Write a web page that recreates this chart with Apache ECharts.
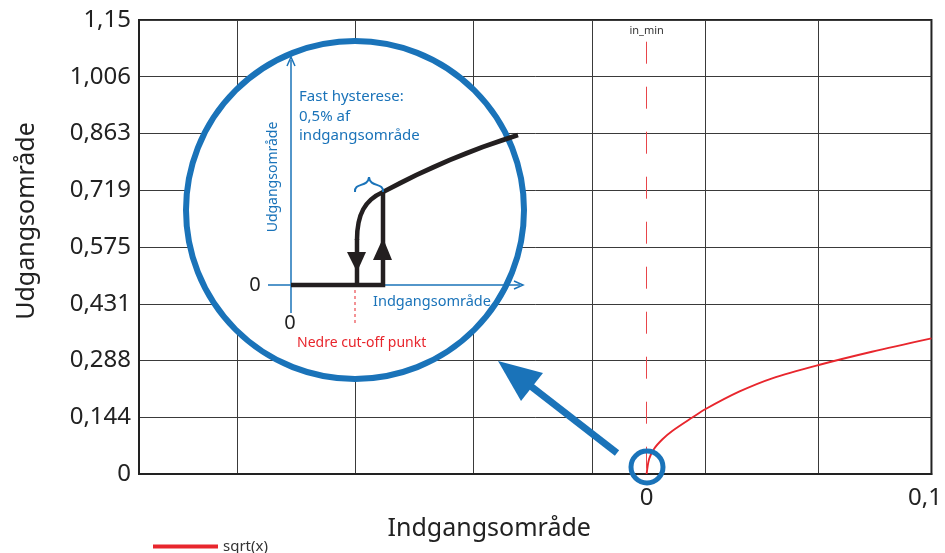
<!DOCTYPE html>
<html>
<head>
<meta charset="utf-8">
<script src="https://cdn.jsdelivr.net/npm/echarts@6/dist/echarts.min.js"></script>
<style>
  html, body { margin: 0; padding: 0; background: #fff; }
  #main { width: 945px; height: 553px; }
</style>
</head>
<body>
<div id="main"></div>
<script>
// kurve (indgang -> udgang)
var xValues = [0, 0.0009, 0.0027, 0.0057, 0.0092, 0.0164, 0.0212, 0.0332, 0.0451, 0.0618, 0.0809, 0.1023];
var yValues = [0, 0.038, 0.064, 0.088, 0.109, 0.143, 0.1646, 0.2085, 0.2424, 0.2761, 0.3097, 0.3434];

var yTickLabels = ['0', '0,144', '0,288', '0,431', '0,575', '0,719', '0,863', '1,006', '1,15'];
var xTickValues = [0, 0.1];
var xTickLabels = ['0', '0,1'];
// lodrette gitterlinjer (aflæst)
var gridXValues = [-0.1471, -0.1045, -0.0622, -0.0195, 0.021, 0.0618];
var seriesName = 'sqrt(x)';
var inMin = 0;

var xMin = -0.1823, xMax = 0.1023;
var yMax = 1.15;
var yInterval = yMax / 8;
var blue = '#1a73b9';
var red = '#e8262d';
var font = 'Noto Sans';

var curveData = xValues.map(function (x, i) { return [x, yValues[i]]; });

var option = {
    animation: false,
    textStyle: { fontFamily: font },
    grid: {
        left: 139, right: 12, top: 20, bottom: 79,
        show: true, borderColor: '#222', borderWidth: 2
    },
    legend: {
        data: [seriesName],
        left: 148, top: 534,
        icon: 'rect', itemWidth: 65, itemHeight: 4,
        textStyle: { fontSize: 15, color: '#333', fontFamily: font }
    },
    xAxis: [
        {
            type: 'value',
            min: xMin, max: xMax,
            name: 'Indgangsområde',
            nameLocation: 'middle',
            nameGap: 42,
            nameTextStyle: { fontSize: 25, color: '#222', padding: [0, 92, 0, 0] },
            splitLine: { show: false },
            axisTick: { show: false },
            axisLine: { onZero: false, lineStyle: { color: '#222', width: 2 } },
            axisLabel: {
                customValues: xTickValues,
                fontSize: 24, color: '#222', margin: 12,
                formatter: function (v) {
                    var i = xTickValues.indexOf(Math.round(v * 1000) / 1000);
                    return i >= 0 ? xTickLabels[i] : '';
                }
            }
        },
        {
            // kun til de lodrette gitterlinjer
            type: 'value', min: xMin, max: xMax,
            position: 'top',
            axisLine: { show: false },
            axisTick: { show: false, customValues: gridXValues },
            axisLabel: { show: false },
            splitLine: { show: true, lineStyle: { color: '#3a3a3a', width: 1 } }
        }
    ],
    yAxis: {
        type: 'value',
        min: 0, max: yMax, interval: yInterval,
        name: 'Udgangsområde',
        nameLocation: 'middle',
        nameGap: 100,
        nameTextStyle: { fontSize: 25, color: '#222', padding: [0, 0, 0, 52] },
        axisLine: { show: true, onZero: false, lineStyle: { color: '#222', width: 2 } },
        axisTick: { show: false },
        axisLabel: {
            fontSize: 24, color: '#222', margin: 8,
            formatter: function (v) { return yTickLabels[Math.round(v / yInterval)]; }
        },
        splitLine: { lineStyle: { color: '#3a3a3a', width: 1 } }
    },
    series: [
        {
            name: seriesName,
            type: 'line',
            data: curveData,
            smooth: 0.3,
            showSymbol: false,
            lineStyle: { color: red, width: 1.9 },
            itemStyle: { color: red },
            markLine: {
                silent: true,
                symbol: 'none',
                lineStyle: { color: '#e8454a', width: 1, type: [22, 23] },
                label: {
                    position: 'start', formatter: 'in_min',
                    fontSize: 11, color: '#333', distance: 5
                },
                data: [[{ coord: [inMin, 1.095] }, { coord: [inMin, 0] }]]
            },
            z: 3
        }
    ],
    graphic: [
        // forstørret udsnit
        { type: 'circle', z: 10, shape: { cx: 355, cy: 210, r: 169 },
          style: { fill: '#fff', stroke: blue, lineWidth: 6 } },
        // akser i udsnittet
        { type: 'line', z: 11, shape: { x1: 291, y1: 313, x2: 291, y2: 60 }, style: { stroke: blue, lineWidth: 1.5 } },
        { type: 'polyline', z: 11, shape: { points: [[287, 66], [291, 57], [295, 66]] }, style: { stroke: blue, lineWidth: 1.5, fill: null } },
        { type: 'line', z: 11, shape: { x1: 268, y1: 285, x2: 520, y2: 285 }, style: { stroke: blue, lineWidth: 1.5 } },
        { type: 'polyline', z: 11, shape: { points: [[514, 281], [523, 285], [514, 289]] }, style: { stroke: blue, lineWidth: 1.5, fill: null } },
        { type: 'text', z: 12, x: 255, y: 285, style: { text: '0', fontSize: 20, fill: '#222', align: 'center', verticalAlign: 'middle', fontFamily: font } },
        { type: 'text', z: 12, x: 290, y: 323, style: { text: '0', fontSize: 20, fill: '#222', align: 'center', verticalAlign: 'middle', fontFamily: font } },
        // hysteresekurve
        { type: 'polyline', z: 12, shape: { points: [[291, 285], [383, 285], [383, 192]] },
          style: { stroke: '#231f20', lineWidth: 4.5, fill: null, lineJoin: 'miter' } },
        { type: 'line', z: 12, shape: { x1: 357, y1: 285, x2: 357, y2: 239 }, style: { stroke: '#231f20', lineWidth: 4.5 } },
        { type: 'bezierCurve', z: 12, shape: { x1: 357, y1: 240, cpx1: 357, cpy1: 214, cpx2: 365, cpy2: 200, x2: 383, y2: 192 },
          style: { stroke: '#231f20', lineWidth: 4.5, fill: null } },
        { type: 'bezierCurve', z: 12, shape: { x1: 383, y1: 192, cpx1: 420, cpy1: 172, cpx2: 470, cpy2: 150, x2: 518, y2: 135 },
          style: { stroke: '#231f20', lineWidth: 4.5, fill: null } },
        { type: 'polygon', z: 13, shape: { points: [[347, 252], [366, 252], [357, 272]] }, style: { fill: '#231f20' } },
        { type: 'polygon', z: 13, shape: { points: [[373, 260], [392, 260], [383, 238]] }, style: { fill: '#231f20' } },
        // klamme over hysteresen
        { type: 'bezierCurve', z: 12, shape: { x1: 355, y1: 192, cpx1: 354, cpy1: 182, cpx2: 368, cpy2: 188, x2: 369, y2: 177 },
          style: { stroke: blue, lineWidth: 2, fill: null } },
        { type: 'bezierCurve', z: 12, shape: { x1: 369, y1: 177, cpx1: 370, cpy1: 188, cpx2: 384, cpy2: 182, x2: 383, y2: 192 },
          style: { stroke: blue, lineWidth: 2, fill: null } },
        // nedre cut-off
        { type: 'line', z: 11, shape: { x1: 355, y1: 290, x2: 355, y2: 324 }, style: { stroke: red, lineWidth: 1, lineDash: [3, 3] } },
        { type: 'text', z: 12, x: 297, y: 343, style: { text: 'Nedre cut-off punkt', fontSize: 14, fill: red, verticalAlign: 'middle', fontFamily: font } },
        { type: 'text', z: 12, x: 373, y: 302, style: { text: 'Indgangsområde', fontSize: 14.5, fill: blue, verticalAlign: 'middle', fontFamily: font } },
        { type: 'text', z: 12, x: 273, y: 177, rotation: Math.PI / 2,
          style: { text: 'Udgangsområde', fontSize: 14, fill: blue, align: 'center', verticalAlign: 'middle', fontFamily: font } },
        { type: 'text', z: 12, x: 299, y: 87,
          style: { text: 'Fast hysterese:\n0,5% af\nindgangsområde', fontSize: 15, lineHeight: 19.5, fill: blue, fontFamily: font } },
        // pil fra nulpunktet op til udsnittet
        { type: 'circle', z: 10, shape: { cx: 647, cy: 467, r: 16 }, style: { fill: null, stroke: blue, lineWidth: 5 } },
        { type: 'line', z: 10, shape: { x1: 617, y1: 453, x2: 528, y2: 384 }, style: { stroke: blue, lineWidth: 7 } },
        { type: 'polygon', z: 10, shape: { points: [[498, 361], [543, 373], [521, 401]] }, style: { fill: blue } }
    ]
};

var chart = echarts.init(document.getElementById('main'));
chart.setOption(option);
</script>
</body>
</html>
